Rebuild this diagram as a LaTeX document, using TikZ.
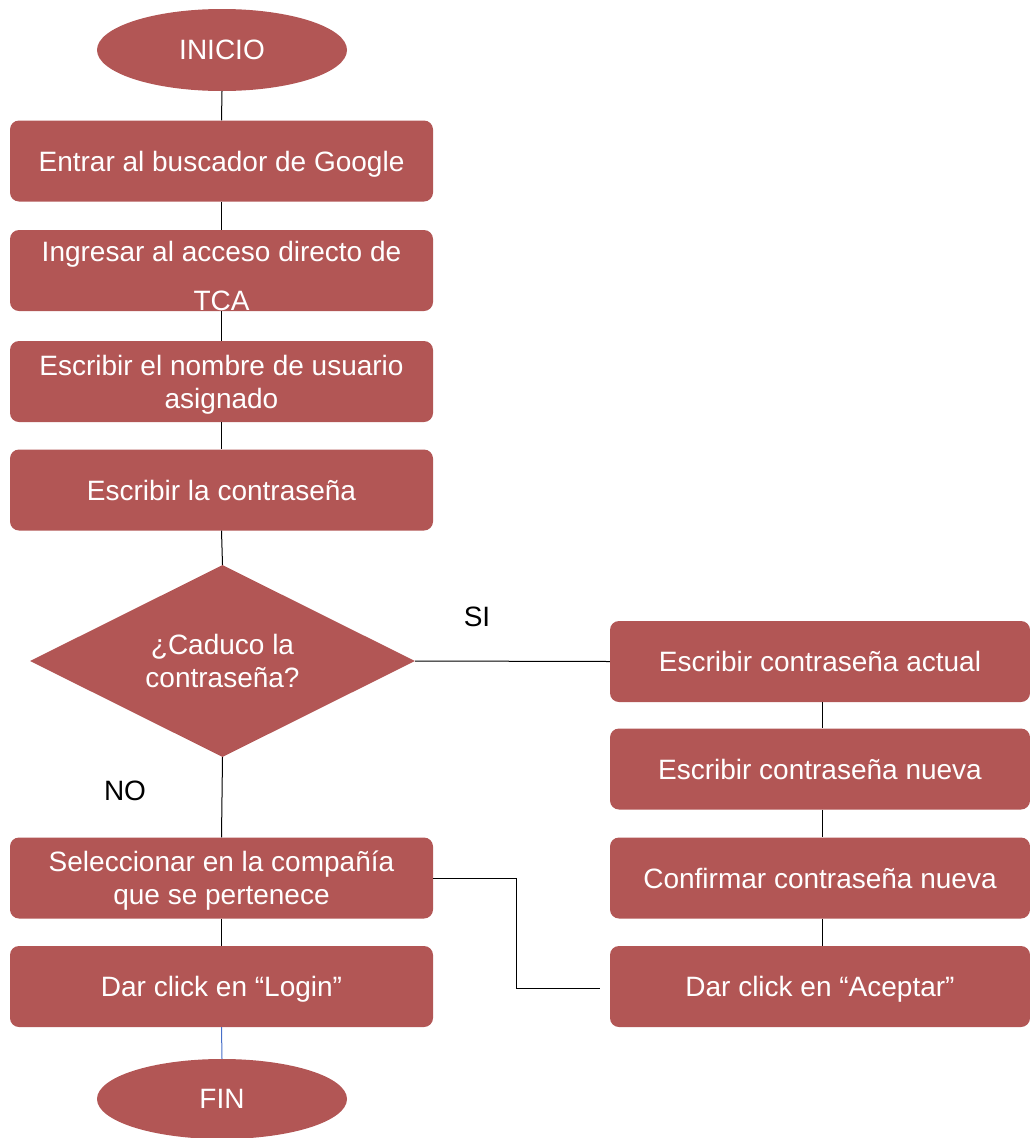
\documentclass[tikz,border=0pt]{standalone}
\usepackage{fontspec}
\setmainfont{Liberation Sans}
\usetikzlibrary{shapes.geometric}
\definecolor{boxred}{RGB}{178,86,85}
\definecolor{finblue}{RGB}{70,110,200}
\begin{document}
\begin{tikzpicture}[x=1pt,y=-1pt,
  every node/.style={font=\fontsize{28}{33}\selectfont, text=white, inner sep=0pt, text depth=0pt},
  procbox/.style={rectangle, rounded corners=9pt, fill=boxred, minimum width=423pt, minimum height=81pt, align=center},
  rbox/.style={procbox, minimum width=420pt},
  term/.style={ellipse, fill=boxred, minimum width=250pt, minimum height=82pt},
  decision/.style={diamond, fill=boxred, aspect=2, minimum width=385pt, minimum height=192pt, align=center},
  lbl/.style={text=black},
  conn/.style={draw=black, line width=1pt}]
\useasboundingbox (0,0) rectangle (1030,1138);
\node[term] (ini) at (222,50) {INICIO};
\node[procbox] (b1) at (221.5,161) {Entrar al buscador de Google};
\node[procbox] (b2) at (221.5,270.5) {};
\node at (221.5,251) {Ingresar al acceso directo de};
\node at (221.5,301) {TCA};
\node[procbox] (b3) at (221.5,381.5) {Escribir el nombre de usuario\\asignado};
\node[procbox] (b4) at (221.5,490) {Escribir la contraseña};
\node[decision] (d) at (222.5,661) {¿Caduco la\\contraseña?};
\node[procbox] (b5) at (221.5,878) {Seleccionar en la compañía\\que se pertenece};
\node[procbox] (b6) at (221.5,986.5) {Dar click en “Login”};
\node[term, minimum height=80pt] (fin) at (222,1099) {FIN};
\node[rbox] (r1) at (820,661.5) {Escribir contraseña actual};
\node[rbox] (r2) at (820,769) {Escribir contraseña nueva};
\node[rbox] (r3) at (820,878) {Confirmar contraseña nueva};
\node[rbox] (r4) at (820,986.5) {Dar click en “Aceptar”};
\node[lbl] at (477,617) {SI};
\node[lbl] at (125,791) {NO};
\coordinate (rx1) at (516,878);
\coordinate (rx2) at (516,988);
\coordinate (rend) at (600,988);
\draw[conn] (ini.south) -- (b1.north);
\draw[conn] (b1.south) -- (b2.north);
\draw[conn] (b2.south) -- (b3.north);
\draw[conn] (b3.south) -- (b4.north);
\draw[conn] (b4.south) -- (d.north);
\draw[conn] (d.south) -- (b5.north);
\draw[conn] (b5.south) -- (b6.north);
\draw[draw=finblue, line width=1pt] (b6.south) -- (fin.north);
\draw[conn] (d.east) -- (r1.west);
\draw[conn] ([xshift=2pt]r1.south) -- ([xshift=2pt]r2.north);
\draw[conn] ([xshift=2pt]r2.south) -- ([xshift=2pt]r3.north);
\draw[conn] ([xshift=2pt]r3.south) -- ([xshift=2pt]r4.north);
\draw[conn] (b5.east) -- (rx1) -- (rx2) -- (rend);
\end{tikzpicture}
\end{document}
